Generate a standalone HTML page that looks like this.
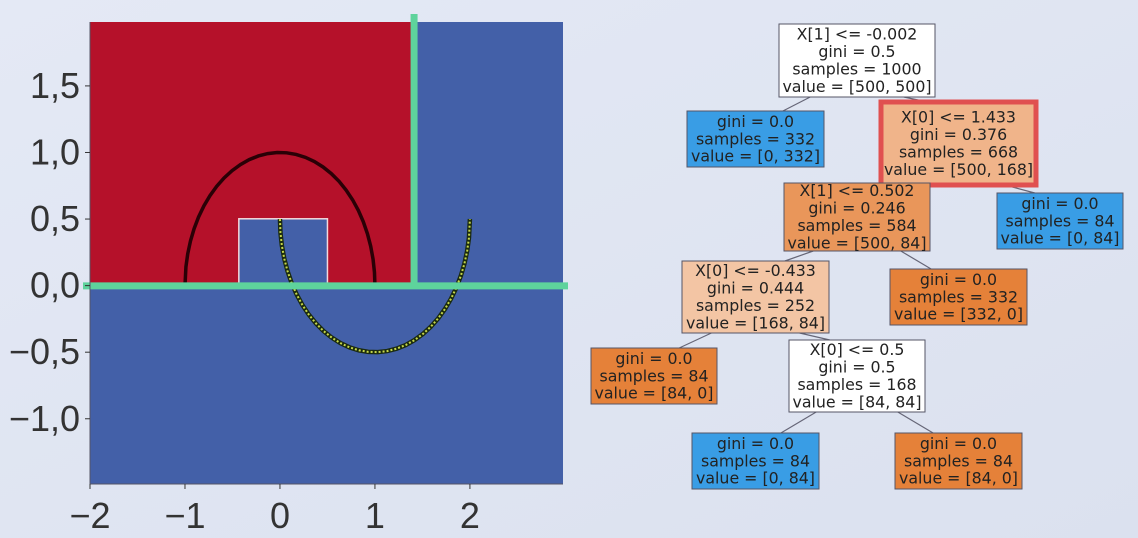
<!DOCTYPE html>
<html><head><meta charset="utf-8"><style>
html,body{margin:0;padding:0;width:1138px;height:538px;overflow:hidden;background:#dfe5f2;}
svg{display:block;}
</style></head><body>
<svg id="s" width="1138" height="538" xmlns="http://www.w3.org/2000/svg">
<defs><linearGradient id="bg" x1="0" y1="0" x2="1" y2="1"><stop offset="0" stop-color="#e4e9f5"/><stop offset="1" stop-color="#dbe1ef"/></linearGradient></defs>
<rect width="1138" height="538" fill="url(#bg)"/>
<g id="plot"></g>
<g id="tree"></g>
</svg>
<script>
const xTicks=[-2,-1,0,1,2];
const xTickLabels=["\u22122","\u22121","0","1","2"];
const yTicks=[1.5,1.0,0.5,0.0,-0.5,-1.0];
const yTickLabels=["1,5","1,0","0,5","0,0","\u22120,5","\u22121,0"];
const xDomain=[-2,2.98];
const yDomain=[-1.49,1.98];
const splitX=[1.433,-0.433,0.5];
const splitY=[-0.002,0.502];
const moonSteps=[0,0.1,0.2,0.3,0.4,0.5,0.6,0.7,0.8,0.9,1.0,1.1,1.2,1.3,1.4,1.5,1.6,1.7,1.8,1.9,2.0,2.1,2.2,2.3,2.4,2.5,2.6,2.7,2.8,2.9,3.0,3.1416];
const treeTexts=[
["X[1] <= -0.002","gini = 0.5","samples = 1000","value = [500, 500]"],
["gini = 0.0","samples = 332","value = [0, 332]"],
["X[0] <= 1.433","gini = 0.376","samples = 668","value = [500, 168]"],
["X[1] <= 0.502","gini = 0.246","samples = 584","value = [500, 84]"],
["gini = 0.0","samples = 84","value = [0, 84]"],
["X[0] <= -0.433","gini = 0.444","samples = 252","value = [168, 84]"],
["gini = 0.0","samples = 332","value = [332, 0]"],
["gini = 0.0","samples = 84","value = [84, 0]"],
["X[0] <= 0.5","gini = 0.5","samples = 168","value = [84, 84]"],
["gini = 0.0","samples = 84","value = [0, 84]"],
["gini = 0.0","samples = 84","value = [84, 0]"]];
const treeFills=["#ffffff","#399de5","#f0b48a","#e9965a","#399de5","#f3c5a4","#e58139","#e58139","#ffffff","#399de5","#e58139"];
const treeEdges=[[0,1],[0,2],[2,3],[2,4],[3,5],[3,6],[5,7],[5,8],[8,9],[8,10]];
const nodeBoxes=[[779,24,156,73],[687,111,137,56],[881,102,155,83],[784,183,146,68],[997,193,126,56],[682,261,147,72],[890,269,137,56],[591,348,126,56],[789,340,136,72],[692,433,127,56],[895,433,127,56]];

const NS="http://www.w3.org/2000/svg";
function el(t,a,p){const e=document.createElementNS(NS,t);for(const k in a)e.setAttribute(k,a[k]);p.appendChild(e);return e;}
const L=90,R=563,T=22,B=484;
const sx=v=>L+(v-xDomain[0])/(xDomain[1]-xDomain[0])*(R-L);
const sy=v=>B-(v-yDomain[0])/(yDomain[1]-yDomain[0])*(B-T);
const P=document.getElementById('plot');
let r=el('rect',{x:L,y:T,width:R-L,height:B-T,fill:'#4360a8'},P);


r=el('rect',{x:L,y:T,width:sx(splitX[0])-L,height:sy(splitY[0])-T,fill:'#b5112a'},P);


r=el('rect',{x:sx(splitX[1]),y:sy(splitY[1]),width:sx(splitX[2])-sx(splitX[1]),height:sy(splitY[0])-sy(splitY[1]),fill:'#4360a8',stroke:'#f2d8dc','stroke-width':1.5},P);


let d1='',d2='';
moonSteps.forEach((t,i)=>{d1+=(i?'L':'M')+sx(Math.cos(t))+','+sy(Math.sin(t));d2+=(i?'L':'M')+sx(1-Math.cos(t))+','+sy(0.5-Math.sin(t));});
let m=el('path',{d:d1,fill:'none',stroke:'#2a0006','stroke-width':3.5},P);


m=el('path',{d:d2,fill:'none',stroke:'#1a2a10','stroke-width':4.5},P);


m=el('path',{d:d2,fill:'none',stroke:'#c6d84a','stroke-width':2,'stroke-dasharray':'2 2'},P);


let g=el('line',{x1:83,x2:568,y1:sy(splitY[0]),y2:sy(splitY[0]),stroke:'#5ed39c','stroke-width':7},P);


g=el('line',{x1:sx(splitX[0])-2,x2:sx(splitX[0])-2,y1:14,y2:sy(splitY[0]),stroke:'#5ed39c','stroke-width':7},P);


el('line',{x1:L,x2:L,y1:T,y2:B,stroke:'#556',"stroke-width":1},P);
el('line',{x1:L,x2:R,y1:B,y2:B,stroke:'#556',"stroke-width":1},P);
xTicks.forEach((v,i)=>{el('line',{x1:sx(v),x2:sx(v),y1:B,y2:B+5,stroke:'#333'},P);
 const t=el('text',{x:sx(v),y:528,'text-anchor':'middle','font-size':36,fill:'#333','font-family':'Liberation Sans, sans-serif'},P);t.textContent=xTickLabels[i];
 
 });
yTicks.forEach((v,i)=>{el('line',{x1:L-5,x2:L,y1:sy(v),y2:sy(v),stroke:'#333'},P);
 const t=el('text',{x:80,y:sy(v)+12,'text-anchor':'end','font-size':36,fill:'#333','font-family':'Liberation Sans, sans-serif'},P);t.textContent=yTickLabels[i];
 
 });
const TR=document.getElementById('tree');
treeEdges.forEach(([a,b])=>{const A=nodeBoxes[a],Bx=nodeBoxes[b];
 const x1=A[0]+A[2]/2+(Bx[0]>A[0]?A[2]*0.3:-A[2]*0.3),y1=A[1]+A[3],x2=Bx[0]+Bx[2]/2+(Bx[0]>A[0]?-Bx[2]*0.2:Bx[2]*0.2),y2=Bx[1];
 const e=el('line',{x1:x1,y1:y1,x2:x2,y2:y2,stroke:'#667','stroke-width':1.2},TR);
 
 });
nodeBoxes.forEach((b,i)=>{const n=el('g',{},TR);
 
 
 el('rect',{x:b[0],y:b[1],width:b[2],height:b[3],fill:treeFills[i],stroke:i==2?'#e05050':'#556',"stroke-width":i==2?5:1},n);
 const lines=treeTexts[i];const lh=17.4;const y0=b[1]+b[3]/2-(lines.length*lh)/2+14;
 lines.forEach((s,j)=>{const t=el('text',{x:b[0]+b[2]/2,y:y0+j*lh,'text-anchor':'middle','font-size':15.8,fill:'#222','font-family':'DejaVu Sans, sans-serif'},n);t.textContent=s;});});
</script>
</body></html>
